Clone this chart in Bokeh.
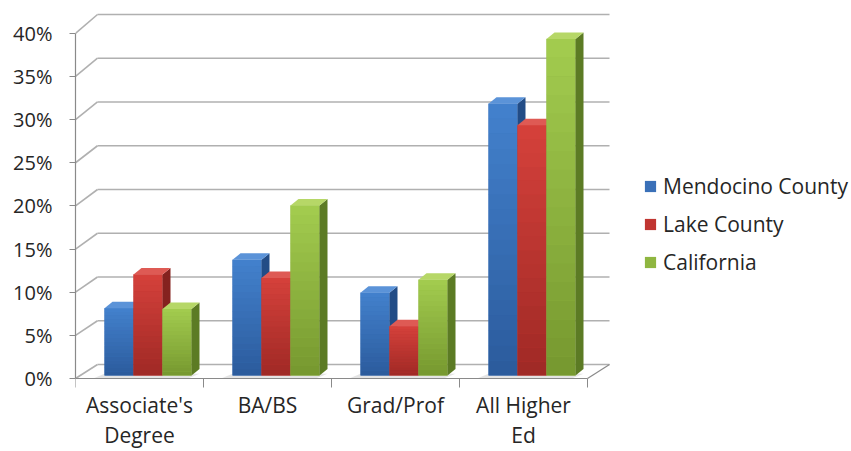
import numpy as np
from bokeh.plotting import figure
from bokeh.models import (Range1d, LinearAxis, FixedTicker, PrintfTickFormatter,
                          Legend, LegendItem)
from bokeh.embed import file_html
from bokeh.resources import INLINE

# ---------------- data ----------------
categories = ["Associate's\nDegree", "BA/BS", "Grad/Prof", "All Higher\nEd"]
series_names = ["Mendocino County", "Lake County", "California"]
mendocino = [7.8, 13.4, 9.6, 31.5]
lake = [11.7, 11.3, 5.7, 29.0]
california = [7.7, 19.7, 11.1, 39.0]
y_ticks = [0, 5, 10, 15, 20, 25, 30, 35, 40]

# ---------------- styles ----------------
top_cols = ["#4381cd", "#d5413b", "#a3cc4f"]
bot_cols = ["#2b5b9c", "#9f2925", "#76982f"]
mid_cols = ["#3a70b8", "#c03531", "#8fb640"]
side_cols = ["#224c86", "#85221f", "#5c7b24"]
cap_cols = ["#5b93d8", "#de5a54", "#b6d767"]
FONT = "Open Sans"
TXT = "#262626"
GRID = "#b0b0b0"
AX = "#8a8a8a"

W, H = 851, 451
LEFT, TOP = 75, 5
ZERO_Y = 378            # pixel row of the 0% front line
PX_X, PX_Y = 128.0, 8.63
frame_w = W - LEFT

DX = 22 / PX_X          # depth offset of back wall (x)
def back(v):            # height of back-wall gridline for value v
    return 1.62 + np.asarray(v, dtype=float) * 1.014

BAR_W = 29 / PX_X
GROUP_OFF = 29 / PX_X
BASE = 3 / PX_Y
BDX = 8 / PX_X
BDY = 6.5 / PX_Y
NSTRIP = 18

p = figure(width=W, height=H,
           x_range=Range1d(0, frame_w / PX_X),
           y_range=Range1d(-(H - ZERO_Y) / PX_Y, (ZERO_Y - TOP) / PX_Y),
           output_backend="svg", toolbar_location=None,
           x_axis_type=None, y_axis_type=None,
           min_border_left=LEFT, min_border_right=0,
           min_border_top=TOP, min_border_bottom=0)
p.outline_line_color = None
p.grid.visible = False
p.background_fill_color = "white"
p.border_fill_color = "white"

n_cat = len(categories)
yt = np.array(y_ticks, dtype=float)

# walls: left-wall diagonals and back-wall gridlines
p.segment(x0=[0.0] * len(yt), y0=yt, x1=[DX] * len(yt), y1=back(yt),
          line_color=GRID, line_width=1.6)
p.segment(x0=[DX] * len(yt), y0=back(yt), x1=[n_cat + DX] * len(yt), y1=back(yt),
          line_color=GRID, line_width=1.6)
# floor right edge
p.segment(x0=[n_cat], y0=[0.0], x1=[n_cat + DX], y1=[float(back(0))],
          line_color=AX, line_width=1.2)

# floor shadows under groups
for i in range(n_cat):
    x0 = i + GROUP_OFF
    x1 = x0 + 3 * BAR_W
    p.patch(x=[x0 - 0.08, x0, x1 + BDX, x1 - 0.02],
            y=[0.05, BASE + 0.2, BASE + 0.2, 0.05],
            fill_color="#d9d9d9", fill_alpha=0.7, line_color=None)

# bars
series = [mendocino, lake, california]
legend_items = []
for j, vals in enumerate(series):
    vals = np.asarray(vals, dtype=float)
    x0s = np.arange(n_cat) + GROUP_OFF + j * BAR_W
    x1s = x0s + BAR_W
    tops = BASE + vals
    base_r = p.quad(left=x0s, right=x1s, bottom=[BASE] * n_cat, top=tops,
                    fill_color=mid_cols[j], line_color=None)
    legend_items.append(LegendItem(label=series_names[j], renderers=[base_r]))
    # gradient strips on front face
    c_top = np.array([int(top_cols[j][k:k + 2], 16) for k in (1, 3, 5)], float)
    c_bot = np.array([int(bot_cols[j][k:k + 2], 16) for k in (1, 3, 5)], float)
    L, R, B, T, C = [], [], [], [], []
    for i in range(n_cat):
        edges = np.linspace(BASE, tops[i], NSTRIP + 1)
        for s in range(NSTRIP):
            f = (s + 0.5) / NSTRIP
            c = c_bot * (1 - f) + c_top * f
            L.append(x0s[i]); R.append(x1s[i])
            B.append(edges[s]); T.append(edges[s + 1] + 0.02)
            C.append("#%02x%02x%02x" % tuple(int(round(v)) for v in c))
    p.quad(left=L, right=R, bottom=B, top=T, fill_color=C, line_color=None)
    # side faces
    xs_side = [[x1s[i], x1s[i] + BDX, x1s[i] + BDX, x1s[i]] for i in range(n_cat)]
    ys_side = [[BASE, BASE + BDY, tops[i] + BDY, tops[i]] for i in range(n_cat)]
    p.patches(xs=xs_side, ys=ys_side, fill_color=side_cols[j], line_color=None)
    # top faces
    xs_top = [[x0s[i], x0s[i] + BDX, x1s[i] + BDX, x1s[i]] for i in range(n_cat)]
    ys_top = [[tops[i], tops[i] + BDY, tops[i] + BDY, tops[i]] for i in range(n_cat)]
    p.patches(xs=xs_top, ys=ys_top, fill_color=cap_cols[j], line_color=None)

# axes
yax = LinearAxis(ticker=FixedTicker(ticks=y_ticks, minor_ticks=[]),
                 formatter=PrintfTickFormatter(format="%d%%"),
                 bounds=(0, 40))
yax.axis_line_color = AX
yax.axis_line_width = 1.2
yax.major_tick_line_color = AX
yax.major_tick_out = 6
yax.major_tick_in = 0
yax.minor_tick_out = 0
yax.major_label_standoff = 17
yax.major_label_text_font = FONT
yax.major_label_text_font_size = "20px"
yax.major_label_text_color = TXT
p.add_layout(yax, "left")

centers = [i + 0.5 for i in range(n_cat)]
xax = LinearAxis(ticker=FixedTicker(ticks=centers, minor_ticks=list(range(n_cat + 1))),
                 bounds=(0, n_cat), fixed_location=0)
xax.major_label_overrides = {c: lab for c, lab in zip(centers, categories)}
xax.axis_line_color = AX
xax.axis_line_width = 1.2
xax.major_tick_out = 0
xax.major_tick_in = 0
xax.minor_tick_line_color = AX
xax.minor_tick_out = 9
xax.minor_tick_in = 0
xax.major_label_standoff = 3
xax.major_label_text_font = FONT
xax.major_label_text_font_size = "21px"
xax.major_label_text_color = TXT
xax.major_label_text_line_height = 1.08
p.add_layout(xax, "below")

legend = Legend(items=legend_items, location=(568, 175))
legend.border_line_color = None
legend.background_fill_alpha = 0
legend.padding = 0
legend.margin = 0
legend.glyph_width = 14
legend.glyph_height = 14
legend.label_height = 24
legend.spacing = 10
legend.label_standoff = 6
legend.label_text_font = FONT
legend.label_text_font_size = "21px"
legend.label_text_color = TXT
p.add_layout(legend, "center")

open("out.html", "w").write(file_html(p, INLINE))
